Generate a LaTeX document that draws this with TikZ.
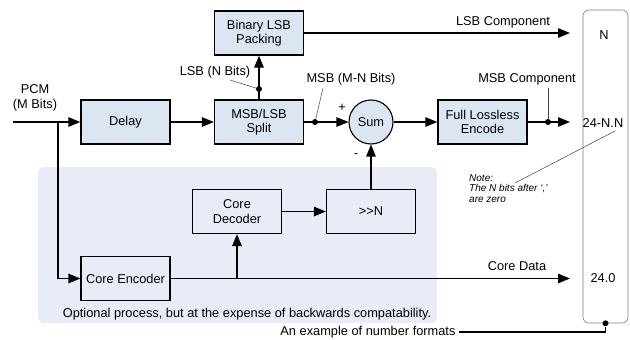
\documentclass[tikz,border=0pt]{standalone}
\usepackage{fontspec}
\setmainfont{Liberation Sans}
\usetikzlibrary{arrows.meta}
\definecolor{boxblue}{RGB}{220,230,243}
\definecolor{regionblue}{RGB}{231,236,246}
\tikzset{
  blockbox/.style={draw=black,fill=boxblue,line width=1.3pt,minimum width=89pt,minimum height=44pt,align=center,inner sep=2pt},
  coreblock/.style={blockbox,fill=regionblue},
  flowline/.style={line width=1.3pt},
  flowarrow/.style={flowline,-{Triangle[length=12pt,width=9.5pt]}},
  leader/.style={line width=0.5pt,black!75},
  tapdot/.style={circle,fill=black,inner sep=0pt,minimum size=6pt},
  every picture/.style={font=\fontsize{12.8}{14.5}\selectfont}
}

\begin{document}
\begin{tikzpicture}[x=1pt,y=-1pt]
  \useasboundingbox (0,0) rectangle (630,340);
  \fill[regionblue,rounded corners=6pt] (38,167) rectangle (437,323);
  % blocks
  \node[blockbox] (pack) at (259,33) {Binary LSB\\Packing};
  \node[blockbox] (delay) at (125.5,122) {Delay};
  \node[blockbox] (split) at (259,122) {MSB/LSB\\Split};
  \node[circle,draw,fill=boxblue,line width=1.1pt,minimum size=44pt,inner sep=0pt] (sum) at (371,122) {Sum};
  \node[blockbox] (encode) at (482.5,122) {Full Lossless\\Encode};
  \node[coreblock] (coredec) at (237,211.5) {Core\\Decoder};
  \node[coreblock] (shift) at (371,211.5) {>{}>N};
  \node[coreblock] (coreenc) at (125.5,278.5) {Core Encoder};
  \node[draw=gray,line width=0.6pt,rounded corners=6pt,fill=white,minimum width=45pt,minimum height=313pt] (fmt) at (605.5,166.5) {};
  \node (fmtn) at (604,35) {N};
  \node (fmtmsb) at (603,123) {24-N.N};
  \node (fmtcore) at (603,278) {24.0};
  % taps and free ends
  \coordinate (pcmin) at (13,122);
  \coordinate (pcmtap) at (58,122);
  \coordinate (cdtap) at (237,278.5);
  \coordinate (lsbend) at (570,33);
  \coordinate (msbend) at (570,122);
  \coordinate (coreend) at (570,278.5);
  \node[tapdot] (lsbtap) at (259,89) {};
  \node[tapdot] (msbtap) at (315,122) {};
  \node[tapdot] (outtap) at (548,122) {};
  \node[tapdot] (fmtdot) at (fmt.south) {};
  % connectors
  \draw[flowarrow] (pcmin) -- (delay);
  \draw[flowarrow] (pcmtap) |- (coreenc);
  \draw[flowarrow] (delay) -- (split);
  \draw[flowarrow] (split) -- (pack);
  \draw[flowarrow] (split) -- (sum);
  \draw[flowarrow] (pack) -- (lsbend);
  \draw[flowarrow] (sum) -- (encode);
  \draw[flowarrow] (encode) -- (msbend);
  \draw[flowarrow] (coreenc) -- (coreend);
  \draw[flowarrow] (cdtap) -- (coredec);
  \draw[flowarrow] (coredec) -- (shift);
  \draw[flowarrow] (shift) -- (sum);
  % labels
  \node[align=center] (pcmlbl) at (35,98) {PCM\\(M Bits)};
  \node (lsblbl) at (215,72) {LSB (N Bits)};
  \node (msblbl) at (351,79) {MSB (M-N Bits)};
  \node (lsbcomp) at (503,22) {LSB Component};
  \node (msbcomp) at (527,79) {MSB Component};
  \node (coredata) at (517,266) {Core Data};
  \node (plus) at (342,108) {+};
  \node (minus) at (356,156) {-};
  \node (optnote) at (247,314) {Optional process, but at the expense of backwards compatability.};
  \node[align=left,anchor=north west,inner sep=0pt,font=\fontsize{10}{10.5}\selectfont\itshape] (note) at (469,174) {Note:\\The N bits after `,'\\are zero};
  \node[anchor=east] (fmtlbl) at (459,332) {An example of number formats};
  \draw[leader] (230,80) -- (lsbtap);
  \draw[leader] (323,88) -- (msbtap);
  \draw[leader] (548,88) -- (outtap);
  \draw[leader] (515,183) -- (615,131);
  \draw[flowline] (fmtdot) |- (fmtlbl);
\end{tikzpicture}
\end{document}
